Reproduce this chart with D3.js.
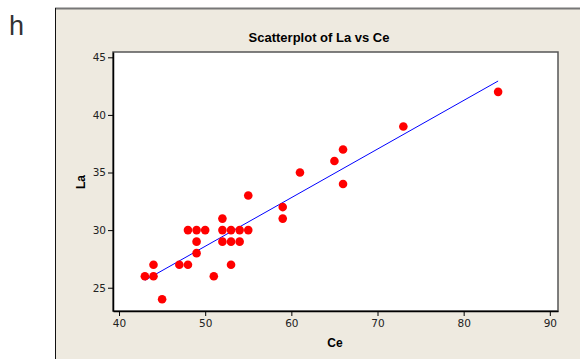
<!DOCTYPE html>
<html>
<head>
<meta charset="utf-8">
<script src="https://cdn.jsdelivr.net/npm/d3@7"></script>
<style>
  body { margin: 0; background: #fff; }
  svg { display: block; font-family: "Liberation Sans", Arial, sans-serif; }
</style>
</head>
<body>
<svg id="chart"></svg>
<script>
// Ce (x) and La (y) values
const ce = [43, 44, 44, 45, 47, 48, 48, 49, 49, 49, 50, 51, 52, 52, 52, 53, 53, 53, 54, 54, 55, 55, 59, 59, 61, 65, 66, 66, 73, 84];
const la = [26, 26, 27, 24, 27, 27, 30, 30, 29, 28, 30, 26, 31, 30, 29, 30, 29, 27, 30, 29, 30, 33, 32, 31, 35, 36, 37, 34, 39, 42];
const xTicks = [40, 50, 60, 70, 80, 90];
const yTicks = [25, 30, 35, 40, 45];

const W = 580, H = 359;
const plot = { left: 113, top: 52, right: 558, bottom: 311 };

const svg = d3.select('#chart').attr('width', W).attr('height', H);

// panel label
svg.append('text')
  .attr('x', 9).attr('y', 35)
  .attr('font-size', 27).attr('fill', '#333')
  .text('h');

// beige graph window
svg.append('rect')
  .attr('x', 55.5).attr('y', 8.5)
  .attr('width', W - 55).attr('height', H - 8)
  .attr('fill', '#eeeae0');
svg.append('line')
  .attr('x1', 55).attr('x2', W).attr('y1', 8.5).attr('y2', 8.5)
  .attr('stroke', '#777').attr('stroke-width', 2);
svg.append('line')
  .attr('x1', 55.5).attr('x2', 55.5).attr('y1', 8).attr('y2', H)
  .attr('stroke', '#111');

// data region
svg.append('rect')
  .attr('x', plot.left).attr('y', plot.top)
  .attr('width', plot.right - plot.left).attr('height', plot.bottom - plot.top)
  .attr('fill', '#fff')
  .attr('stroke', '#555').attr('stroke-width', 1.5);

const x = d3.scaleLinear().domain([39.3, 90.95]).range([plot.left, plot.right]);
const y = d3.scaleLinear().domain([22.98, 45.46]).range([plot.bottom, plot.top]);

const xAxis = svg.append('g')
  .attr('transform', `translate(0,${plot.bottom})`)
  .call(d3.axisBottom(x).tickValues(xTicks).tickSize(5).tickSizeOuter(0).tickPadding(4));
const yAxis = svg.append('g')
  .attr('transform', `translate(${plot.left},0)`)
  .call(d3.axisLeft(y).tickValues(yTicks).tickSize(5).tickSizeOuter(0).tickPadding(2));

[xAxis, yAxis].forEach(g => {
  g.select('.domain').attr('stroke', '#000').attr('stroke-width', 1.5);
  g.selectAll('.tick line').attr('stroke', '#000');
  g.selectAll('.tick text')
    .attr('font-family', '"DejaVu Sans", Verdana, sans-serif')
    .attr('font-size', 10.5).attr('fill', '#222');
});

// least squares fit line, from min to max Ce
const mx = d3.mean(ce), my = d3.mean(la);
const sxy = d3.sum(ce, (v, i) => (v - mx) * (la[i] - my));
const sxx = d3.sum(ce, v => (v - mx) * (v - mx));
const slope = sxy / sxx;
const icpt = my - slope * mx;
const xr = d3.extent(ce);

svg.append('line')
  .attr('x1', x(xr[0])).attr('y1', y(icpt + slope * xr[0]))
  .attr('x2', x(xr[1])).attr('y2', y(icpt + slope * xr[1]))
  .attr('stroke', '#0000ff').attr('stroke-width', 1);

svg.append('g')
  .selectAll('circle')
  .data(ce)
  .enter().append('circle')
  .attr('cx', d => x(d))
  .attr('cy', (d, i) => y(la[i]))
  .attr('r', 4.3)
  .attr('fill', '#ff0000');

// titles
svg.append('text')
  .attr('x', 319).attr('y', 42)
  .attr('text-anchor', 'middle')
  .attr('font-size', 13).attr('font-weight', 'bold')
  .text('Scatterplot of La vs Ce');

svg.append('text')
  .attr('x', 335).attr('y', 347)
  .attr('text-anchor', 'middle')
  .attr('font-size', 12).attr('font-weight', 'bold')
  .text('Ce');

svg.append('text')
  .attr('transform', 'translate(85,182) rotate(-90)')
  .attr('text-anchor', 'middle')
  .attr('font-size', 12).attr('font-weight', 'bold')
  .text('La');
</script>
</body>
</html>
